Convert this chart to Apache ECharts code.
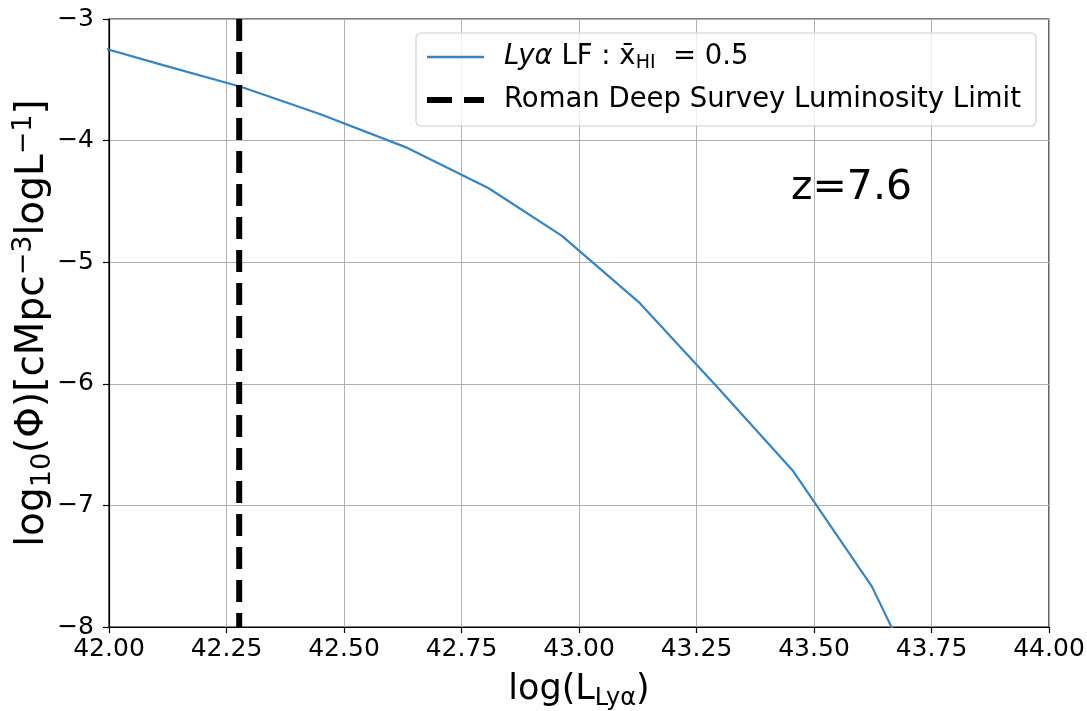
<!DOCTYPE html>
<html>
<head>
<meta charset="utf-8">
<script src="https://cdn.jsdelivr.net/npm/echarts@6/dist/echarts.min.js"></script>
<style>
  html, body { margin: 0; padding: 0; background: #fff; }
  #chart { width: 1087px; height: 711px; }
</style>
</head>
<body>
<div id="chart"></div>
<script>
// ---- data ----
const logL = [41.95, 42.115, 42.282, 42.45, 42.635, 42.807, 42.963, 43.129, 43.295, 43.456, 43.623, 43.79];
const logPhi = [-3.197, -3.379, -3.559, -3.783, -4.06, -4.39, -4.782, -5.335, -6.03, -6.72, -7.666, -9.0];
const limitL = 42.277;
const limitSpan = [-3, -8];
const xTicks = { min: 42, max: 44, step: 0.25 };
const yTicks = { min: -8, max: -3, step: 1 };
const redshiftLabel = 'z=7.6';

const FONT = 'DejaVu Sans';
const chart = echarts.init(document.getElementById('chart'), null, { renderer: 'canvas' });

const lfData = logL.map((x, i) => [x, logPhi[i]]);
const limitData = limitSpan.map(y => [limitL, y]);

chart.setOption({
  animation: false,
  backgroundColor: '#ffffff',
  textStyle: { fontFamily: FONT },
  grid: {
    left: 109, right: 38, top: 19, bottom: 84,
    containLabel: false, outerBoundsMode: 'none',
    show: true, borderColor: '#000', borderWidth: 1.2, backgroundColor: 'transparent'
  },
  xAxis: {
    type: 'value', min: xTicks.min, max: xTicks.max, interval: xTicks.step,
    axisLine: { show: true, onZero: false, lineStyle: { color: '#000', width: 1.2 } },
    axisTick: { show: true, length: 6, lineStyle: { color: '#000', width: 1.2 } },
    axisLabel: { fontFamily: FONT, fontSize: 25, color: '#000', margin: 10,
      formatter: v => v.toFixed(2) },
    splitLine: { show: true, lineStyle: { color: '#b0b0b0', width: 1 } },
    name: '{n|log(L}{s|Lyα}{n|)}',
    nameLocation: 'middle', nameGap: 42, nameMoveOverlap: false,
    nameTextStyle: {
      rich: {
        n: { fontFamily: FONT, fontSize: 35, color: '#000', lineHeight: 42, verticalAlign: 'middle' },
        s: { fontFamily: FONT, fontSize: 24, color: '#000', lineHeight: 42, verticalAlign: 'bottom' }
      }
    }
  },
  yAxis: {
    type: 'value', min: yTicks.min, max: yTicks.max, interval: yTicks.step,
    axisLine: { show: true, onZero: false, lineStyle: { color: '#000', width: 1.2 } },
    axisTick: { show: true, length: 6, lineStyle: { color: '#000', width: 1.2 } },
    axisLabel: { fontFamily: FONT, fontSize: 25, color: '#000', margin: 15,
      formatter: v => (v < 0 ? '\u2212' + Math.abs(v) : String(v)) },
    splitLine: { show: true, lineStyle: { color: '#b0b0b0', width: 1 } },
    name: '{n|log}{s|10}{n|(Φ)[cMpc}{p|−3}{n|logL}{p|−1}{n|]}',
    nameLocation: 'middle', nameRotate: 90, nameGap: 53, nameMoveOverlap: false,
    nameTextStyle: {
      rich: {
        n: { fontFamily: FONT, fontSize: 39, color: '#000', lineHeight: 46, verticalAlign: 'middle' },
        s: { fontFamily: FONT, fontSize: 27, color: '#000', lineHeight: 46, verticalAlign: 'bottom' },
        p: { fontFamily: FONT, fontSize: 27, color: '#000', lineHeight: 46, verticalAlign: 'top' }
      }
    }
  },
  legend: {
    orient: 'vertical', left: 416, top: 33,
    padding: [8, 15, 10, 11],
    itemGap: 11, itemWidth: 57, itemHeight: 14,
    backgroundColor: 'rgba(255,255,255,0.8)',
    borderColor: '#d0d0d0', borderWidth: 1.2, borderRadius: 5,
    data: [
      { name: 'Lyα LF', icon: 'path://M0,0 L57,0 L57,2.5 L0,2.5 Z' },
      { name: 'Roman Deep Survey Luminosity Limit', icon: 'path://M0,0 L25,0 L25,6 L0,6 Z M37,0 L57,0 L57,6 L37,6 Z' }
    ],
    formatter: function (name) {
      if (name === 'Lyα LF') return '{i|Lyα} {t|LF : x\u0304}{s|HI}{t|  = 0.5}';
      return '{t|' + name + '}';
    },
    textStyle: {
      fontFamily: FONT, fontSize: 27.5, color: '#000', lineHeight: 32,
      padding: [0, 0, 0, 15],
      rich: {
        t: { fontFamily: FONT, fontSize: 27.5, color: '#000', lineHeight: 32, verticalAlign: 'middle' },
        i: { fontFamily: FONT, fontSize: 27.5, fontStyle: 'italic', color: '#000', lineHeight: 32, verticalAlign: 'middle' },
        s: { fontFamily: FONT, fontSize: 19, color: '#000', lineHeight: 32, verticalAlign: 'bottom' }
      }
    }
  },
  graphic: [{
    type: 'text', left: 791, top: 168, silent: true,
    style: { text: redshiftLabel, font: '41px "DejaVu Sans"', fill: '#000' }
  }],
  series: [
    {
      name: 'Lyα LF', type: 'line', data: lfData, clip: true,
      showSymbol: false, symbol: 'none', smooth: false,
      lineStyle: { color: '#3385c6', width: 2.2 },
      itemStyle: { color: '#3385c6' }, z: 3
    },
    {
      name: 'Roman Deep Survey Luminosity Limit', type: 'line', data: limitData, clip: true,
      showSymbol: false, symbol: 'none',
      lineStyle: { color: '#000', width: 6, type: [22, 11] },
      itemStyle: { color: '#000' }, z: 4
    }
  ]
});
</script>
</body>
</html>
